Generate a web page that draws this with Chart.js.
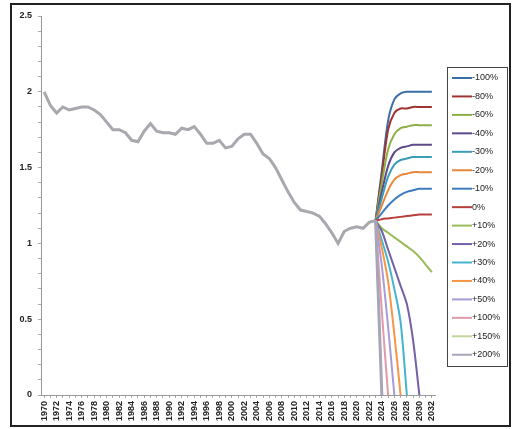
<!DOCTYPE html>
<html>
<head>
<meta charset="utf-8">
<script src="https://cdn.jsdelivr.net/npm/chart.js@4/dist/chart.umd.min.js"></script>
<style>
  body { margin: 0; background: #fff; }
  canvas { display: block; }
</style>
</head>
<body>
<canvas id="chart" width="513" height="429"></canvas>
<script>
// years on the x axis
const years = []
for (let y = 1970; y <= 2032; y++) years.push(String(y))

// observed values 1970-2023
const history = [
  2.00, 1.91, 1.86, 1.90, 1.88, 1.89, 1.90, 1.90, 1.88, 1.85,
  1.80, 1.75, 1.75, 1.73, 1.68, 1.67, 1.74, 1.79, 1.74, 1.73,
  1.73, 1.72, 1.76, 1.75, 1.77, 1.72, 1.66, 1.66, 1.68, 1.63,
  1.64, 1.69, 1.72, 1.72, 1.66, 1.59, 1.56, 1.50, 1.42, 1.34,
  1.27, 1.22, 1.21, 1.20, 1.18, 1.13, 1.07, 1.00, 1.08, 1.10,
  1.11, 1.10, 1.14, 1.15
]

// scenarios, values from 2023 on
const scenarioLabels = ['-100%', '-80%', '-60%', '-40%', '-30%', '-20%', '-10%', '0%',
  '+10%', '+20%', '+30%', '+40%', '+50%', '+100%', '+150%', '+200%']
const scenarioValues = [
  [1.15, 1.48, 1.81, 1.95, 1.99, 2.00, 2.00, 2.00, 2.00, 2.00],
  [1.15, 1.45, 1.75, 1.86, 1.89, 1.89, 1.90, 1.90, 1.90, 1.90],
  [1.15, 1.40, 1.62, 1.72, 1.76, 1.77, 1.78, 1.78, 1.78, 1.78],
  [1.15, 1.34, 1.51, 1.60, 1.63, 1.64, 1.65, 1.65, 1.65, 1.65],
  [1.15, 1.30, 1.44, 1.52, 1.55, 1.56, 1.57, 1.57, 1.57, 1.57],
  [1.15, 1.25, 1.35, 1.42, 1.45, 1.46, 1.47, 1.47, 1.47, 1.47],
  [1.15, 1.20, 1.25, 1.29, 1.32, 1.34, 1.35, 1.36, 1.36, 1.36],
  [1.15, 1.16, 1.165, 1.17, 1.175, 1.18, 1.185, 1.19, 1.19, 1.19],
  [1.15, 1.10, 1.07, 1.04, 1.01, 0.98, 0.95, 0.91, 0.86, 0.81],
  [1.15, 1.08, 0.96, 0.84, 0.72, 0.60, 0.36, 0],
  [1.15, 1.02, 0.88, 0.70, 0.48, 0],
  [1.15, 0.97, 0.75, 0.40, 0],
  [1.15, 0.85, 0.45, 0],
  [1.15, 0.55, 0],
  [1.15, 0],
  [1.15, 0]
]
const scenarioColors = ['#3a6ea5', '#9e3532', '#8db045', '#5e4a8c', '#3c9db8', '#e8873a',
  '#3f7bc1', '#b8403c', '#9bbb59', '#7460a6', '#45b5cf', '#f79646', '#a99bd8', '#e09aaa',
  '#c3d69b', '#a6a6b8']

const yTicks = [0, 0.5, 1, 1.5, 2, 2.5]

const startIdx = years.indexOf('2023')
const pad = (vals, from) => years.map((_, i) => (i >= from && i - from < vals.length) ? vals[i - from] : null)

const datasets = scenarioLabels.map((lab, k) => ({
  label: lab,
  data: pad(scenarioValues[k], startIdx),
  borderColor: scenarioColors[k],
  borderWidth: k === 15 ? 3 : 2,
  pointRadius: 0,
  tension: 0.3,
  order: -k
}))
datasets.push({
  label: 'history',
  data: pad(history, 0),
  borderColor: '#a8a8ae',
  borderWidth: 3,
  pointRadius: 0,
  tension: 0,
  order: -20
})

const frame = {
  id: 'frame',
  beforeDraw(chart) {
    const ctx = chart.ctx
    ctx.save()
    ctx.fillStyle = '#fff'
    ctx.fillRect(0, 0, chart.width, chart.height)
    ctx.strokeStyle = '#222'
    ctx.lineWidth = 2
    ctx.strokeRect(11, 4, 499, 422)
    ctx.restore()
  },
  afterDraw(chart) {
    // legend box
    const ctx = chart.ctx
    const bx = 447, by = 67, bw = 60, bh = 299, step = 18.45
    ctx.save()
    ctx.strokeStyle = '#444'
    ctx.lineWidth = 1
    ctx.strokeRect(bx + 0.5, by + 0.5, bw, bh)
    ctx.font = '9px "Liberation Sans", Arial, sans-serif'
    ctx.textBaseline = 'middle'
    ctx.textAlign = 'left'
    scenarioLabels.forEach((lab, i) => {
      const y = by + 11 + i * step
      ctx.strokeStyle = scenarioColors[i]
      ctx.lineWidth = 2
      ctx.beginPath()
      ctx.moveTo(bx + 5, y)
      ctx.lineTo(bx + 25, y)
      ctx.stroke()
      ctx.fillStyle = '#222'
      ctx.fillText(lab, bx + 25, y)
    })
    ctx.restore()
  }
}

new Chart(document.getElementById('chart'), {
  type: 'line',
  data: { labels: years, datasets: datasets },
  plugins: [frame],
  options: {
    responsive: false,
    animation: false,
    layout: { padding: { left: 11, top: 16, right: 78, bottom: 0 } },
    plugins: { legend: { display: false }, tooltip: { enabled: false } },
    scales: {
      x: {
        offset: true,
        afterFit(scale) { scale.height = 34 },
        grid: { drawOnChartArea: false, tickLength: 3, color: '#aaa' },
        border: { color: '#999' },
        ticks: {
          autoSkip: false,
          minRotation: 90,
          maxRotation: 90,
          padding: 3,
          color: '#222',
          font: { family: 'Liberation Sans', size: 9, weight: 'bold' },
          callback(v) {
            const lab = this.getLabelForValue(v)
            return Number(lab) % 2 === 0 ? lab : ''
          }
        }
      },
      y: {
        min: 0,
        max: 2.5,
        afterFit(scale) { scale.width = 30 },
        grid: { drawOnChartArea: false, tickLength: 3, color: '#aaa' },
        border: { color: '#999' },
        ticks: {
          stepSize: 0.1,
          autoSkip: false,
          padding: 6,
          color: '#222',
          font: { family: 'Liberation Sans', size: 9, weight: 'bold' },
          callback(v) {
            const hit = yTicks.find(t => Math.abs(t - v) < 1e-6)
            return hit === undefined ? '' : String(hit)
          }
        }
      }
    }
  }
})
</script>
</body>
</html>
